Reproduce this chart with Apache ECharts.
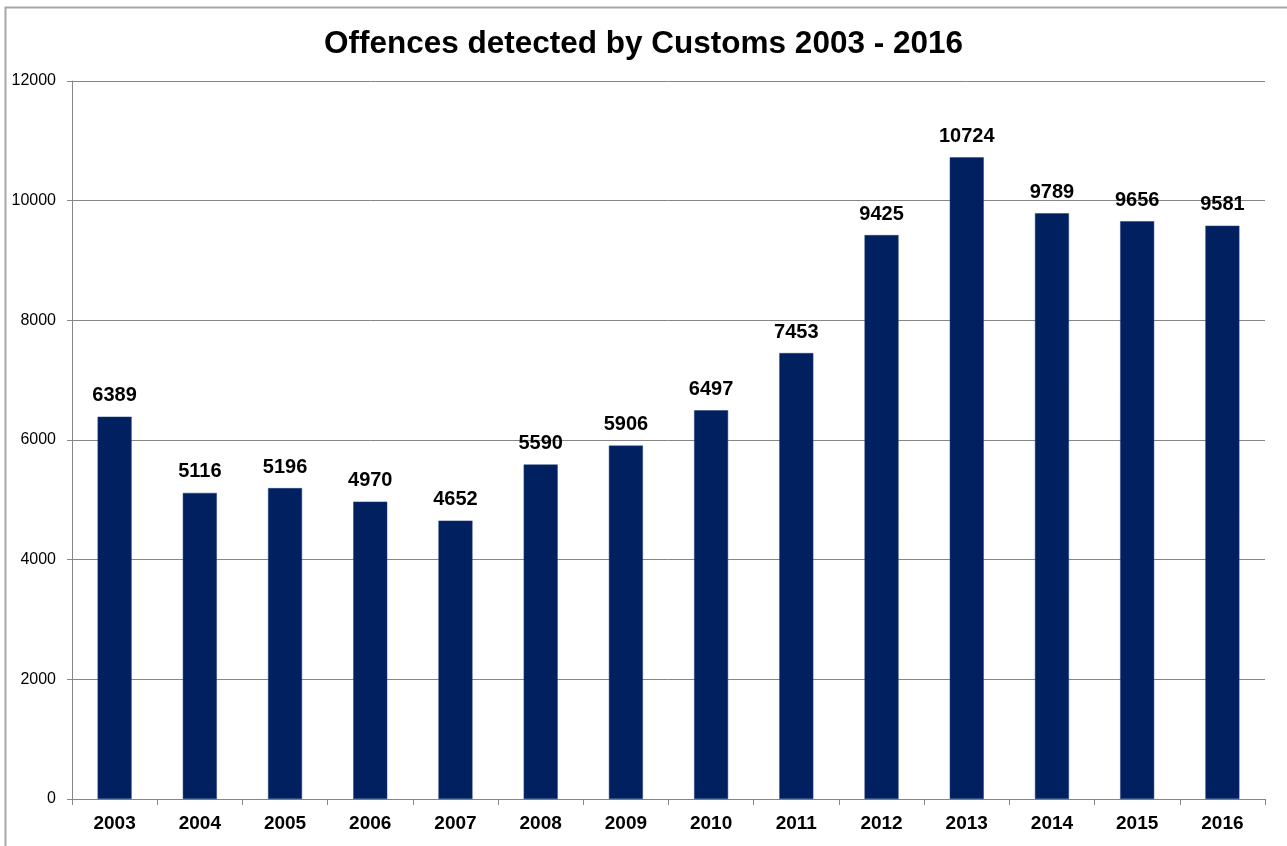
<!DOCTYPE html>
<html><head><meta charset="utf-8">
<script src="https://cdn.jsdelivr.net/npm/echarts@6/dist/echarts.min.js"></script>
<style>html,body{margin:0;padding:0;background:#fff}#c{width:1287px;height:846px}</style>
</head><body><div id="c"></div>
<script>
const categories = ['2003','2004','2005','2006','2007','2008','2009','2010','2011','2012','2013','2014','2015','2016'];
const offences = [6389,5116,5196,4970,4652,5590,5906,6497,7453,9425,10724,9789,9656,9581];
const titleText = 'Offences detected by Customs 2003 - 2016';

const chart = echarts.init(document.getElementById('c'));
chart.setOption({
  animation: false,
  backgroundColor: '#fff',
  graphic: [{
    type: 'rect', shape: {x: 5.5, y: 7.5, width: 1300, height: 900},
    style: {fill: 'none', stroke: '#a6a6a6', lineWidth: 2}, silent: true
  }],
  title: {
    text: titleText, left: 'center', top: 23,
    textStyle: {fontFamily: 'Liberation Sans, Arial', fontSize: 31.5, fontWeight: 'bold', color: '#000'}
  },
  grid: {left: 72, right: 22, top: 81, bottom: 47, containLabel: false},
  xAxis: {
    type: 'category', data: categories,
    axisLine: {lineStyle: {color: '#868686', width: 1}},
    axisTick: {show: true, length: 6, lineStyle: {color: '#868686'}},
    axisLabel: {fontFamily: 'Liberation Sans, Arial', fontSize: 19, fontWeight: 'bold', color: '#000', margin: 15}
  },
  yAxis: {
    type: 'value', min: 0, max: 12000, interval: 2000,
    axisLine: {show: true, lineStyle: {color: '#868686'}},
    axisTick: {show: true, length: 5, inside: false, lineStyle: {color: '#868686'}},
    splitLine: {lineStyle: {color: '#868686', width: 1}},
    axisLabel: {fontFamily: 'Liberation Sans, Arial', fontSize: 16, color: '#000', margin: 16,
      formatter: function (v) { return String(v); }}
  },
  series: [{
    type: 'bar', data: offences, barWidth: 34,
    itemStyle: {color: '#002060', borderColor: '#1f3f7a', borderWidth: 0.5},
    label: {show: true, position: 'top', distance: 11,
      fontFamily: 'Liberation Sans, Arial', fontSize: 20, fontWeight: 'bold', color: '#000'}
  }]
});
</script></body></html>
